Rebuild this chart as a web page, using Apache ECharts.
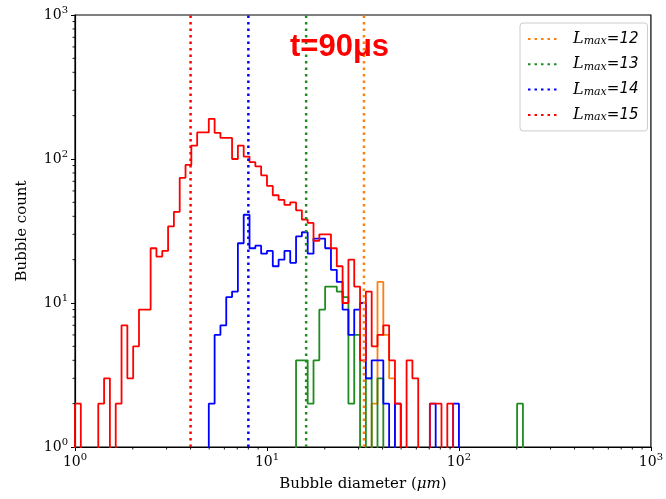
<!DOCTYPE html>
<html>
<head>
<meta charset="utf-8">
<script src="https://cdn.jsdelivr.net/npm/echarts@6/dist/echarts.min.js"></script>
<style>
html,body{margin:0;padding:0;background:#fff;}
#chart{width:666px;height:499px;}
</style>
</head>
<body>
<div id="chart"></div>
<script>
// 99 log-spaced bins between 1 and 1000 um (same as the original histogram)
var binCount = 99;
var binEdges = [];
for (var i = 0; i <= binCount; i++) binEdges.push(Math.pow(10, 3 * i / binCount));

// legend names / colours / reference diameters (orange, green, blue, red)
var seriesNames = ['L_max=12', 'L_max=13', 'L_max=14', 'L_max=15'];
var seriesColors = ['#ff7f0e', '#1e8c1e', '#0000ff', '#ff0000'];
var lmaxDiameters = [32, 16, 8, 4];

// bubble counts per bin, each list starts at its first bin index
var startBins = [51, 38, 23, 0];
var orangeCounts = [2, 14, 6, 3];
var greenCounts = [4, 4, 2, 4, 9, 13, 13, 12, 11, 2, 6, 0, 3, 0, 3,
    0, 0, 0, 0, 0, 0, 0, 0, 0, 0, 0, 0, 0, 0, 0, 0, 0, 0, 0, 0, 0, 0, 0, 2];
var blueCounts = [2, 6, 7, 11, 12, 26, 41, 24, 25, 22, 23, 18, 20, 23, 19, 29, 31, 22, 28, 28,
    24, 17, 14, 9, 6, 9, 10, 3, 4, 4, 2, 0, 2, 0, 0, 0, 0, 0, 2, 0, 0, 0, 2];
var redCounts = [2, 0, 0, 0, 2, 3, 0, 2, 7, 3, 5, 9, 9, 24, 21, 23, 34, 43, 74, 91,
    124, 153, 153, 190, 152, 140, 140, 100, 124, 104, 95, 89, 77, 65, 56, 52, 48, 50, 44, 38,
    36, 27, 30, 30, 24, 18, 10, 20, 13, 4, 12, 5, 6, 7, 4, 2, 0, 4, 3, 0,
    0, 2, 2, 0, 2];
var allCounts = [orangeCounts, greenCounts, blueCounts, redCounts];

var majorTicks = [1, 10, 100, 1000];
var minorTicks = [];
for (var d = 1; d < 1000; d *= 10) {
    for (var m = 2; m <= 9; m++) minorTicks.push(m * d);
}

var FLOOR = 0.5;  // empty bins drop below the axis (clipped), like matplotlib

// outline of a step histogram
function stepPoints(start, counts) {
    var pts = [[binEdges[start], FLOOR]];
    for (var k = 0; k < counts.length; k++) {
        pts.push([binEdges[start + k], counts[k] > 0 ? counts[k] : FLOOR]);
    }
    var last = counts[counts.length - 1];
    pts.push([binEdges[start + counts.length], last > 0 ? last : FLOOR]);
    pts.push([binEdges[start + counts.length], FLOOR]);
    return pts;
}

function powLabel(v) {
    return '{b|10}{s|' + Math.round(Math.log10(v)) + '}';
}
var powRich = {
    b: {fontFamily: 'DejaVu Serif', fontSize: 14, color: '#000', lineHeight: 20},
    s: {fontFamily: 'DejaVu Serif', fontSize: 10, color: '#000', lineHeight: 12, verticalAlign: 'top'}
};

var series = [];
for (var s = 0; s < 4; s++) {
    series.push({
        name: 'hist ' + seriesNames[s],
        type: 'line',
        step: 'end',
        symbol: 'none',
        silent: true,
        lineStyle: {color: seriesColors[s], width: 1.8},
        data: stepPoints(startBins[s], allCounts[s])
    });
}
for (var s = 0; s < 4; s++) {
    series.push({
        name: seriesNames[s],
        type: 'line',
        symbol: 'none',
        silent: true,
        itemStyle: {color: seriesColors[s]},
        lineStyle: {color: seriesColors[s], width: 2.5, type: [2.5, 4]},
        data: [[lmaxDiameters[s], 1], [lmaxDiameters[s], 1000]]
    });
}

// minor log ticks (2..9 of every decade), drawn outside the plot on both axes
series.push({
    name: 'xminor', type: 'custom', silent: true, clip: false, z: 5,
    data: minorTicks.map(function (v) { return [v, 1]; }),
    renderItem: function (params, api) {
        var p = api.coord([api.value(0), 1]);
        return {type: 'line', shape: {x1: p[0], y1: p[1], x2: p[0], y2: p[1] + 2.5},
            style: {stroke: '#000', lineWidth: 0.9}};
    }
});
series.push({
    name: 'yminor', type: 'custom', silent: true, clip: false, z: 5,
    data: minorTicks.map(function (v) { return [1, v]; }),
    renderItem: function (params, api) {
        var p = api.coord([1, api.value(1)]);
        return {type: 'line', shape: {x1: p[0], y1: p[1], x2: p[0] - 2.5, y2: p[1]},
            style: {stroke: '#000', lineWidth: 0.9}};
    }
});

var myChart = echarts.init(document.getElementById('chart'));
var option = {
    animation: false,
    backgroundColor: '#fff',
    title: {
        text: 't=90μs',
        left: 290, top: 32, padding: 0,
        textStyle: {fontFamily: 'Liberation Sans', fontSize: 31, fontWeight: 'bold', color: '#ff0000'}
    },
    grid: {
        left: 75, right: 11, top: 15, bottom: 52,
        show: true, borderColor: '#000', borderWidth: 1.2, backgroundColor: 'transparent'
    },
    legend: {
        data: seriesNames,
        orient: 'vertical',
        left: 520, top: 23,
        padding: [8, 9, 8, 7],
        itemWidth: 31, itemHeight: 14, itemGap: 9.3,
        backgroundColor: 'rgba(255,255,255,0.8)',
        borderColor: '#cccccc', borderWidth: 1, borderRadius: 3,
        itemStyle: {opacity: 0},
        formatter: function (name) {
            return '{l|L}{m|max}{e|=' + name.split('=')[1] + '}';
        },
        textStyle: {
            rich: {
                l: {fontFamily: 'DejaVu Serif', fontStyle: 'italic', fontSize: 16, color: '#000', padding: [0, 0, 0, 9]},
                m: {fontFamily: 'DejaVu Serif', fontStyle: 'italic', fontSize: 11, color: '#000', verticalAlign: 'bottom', lineHeight: 12},
                e: {fontFamily: 'DejaVu Sans', fontStyle: 'italic', fontSize: 15, color: '#000'}
            }
        }
    },
    xAxis: {
        type: 'log', logBase: 10, min: 1, max: 1000,
        name: 'Bubble diameter ({i|μm})',
        nameLocation: 'middle', nameGap: 30,
        nameTextStyle: {
            fontFamily: 'DejaVu Serif', fontSize: 15, color: '#000',
            rich: {i: {fontFamily: 'DejaVu Serif', fontStyle: 'italic', fontSize: 15, color: '#000'}}
        },
        axisLine: {lineStyle: {color: '#000', width: 1.2}},
        axisTick: {customValues: majorTicks, length: 4, lineStyle: {color: '#000', width: 1}},
        axisLabel: {customValues: majorTicks, margin: 5, formatter: powLabel, rich: powRich},
        splitLine: {show: false}
    },
    yAxis: {
        type: 'log', logBase: 10, min: 1, max: 1000,
        name: 'Bubble count',
        nameLocation: 'middle', nameGap: 45,
        nameTextStyle: {fontFamily: 'DejaVu Serif', fontSize: 15, color: '#000'},
        axisLine: {lineStyle: {color: '#000', width: 1.2}},
        axisTick: {customValues: majorTicks, length: 4, lineStyle: {color: '#000', width: 1}},
        axisLabel: {customValues: majorTicks, margin: 7, formatter: powLabel, rich: powRich},
        splitLine: {show: false}
    },
    series: series
};
myChart.setOption(option);
</script>
</body>
</html>
